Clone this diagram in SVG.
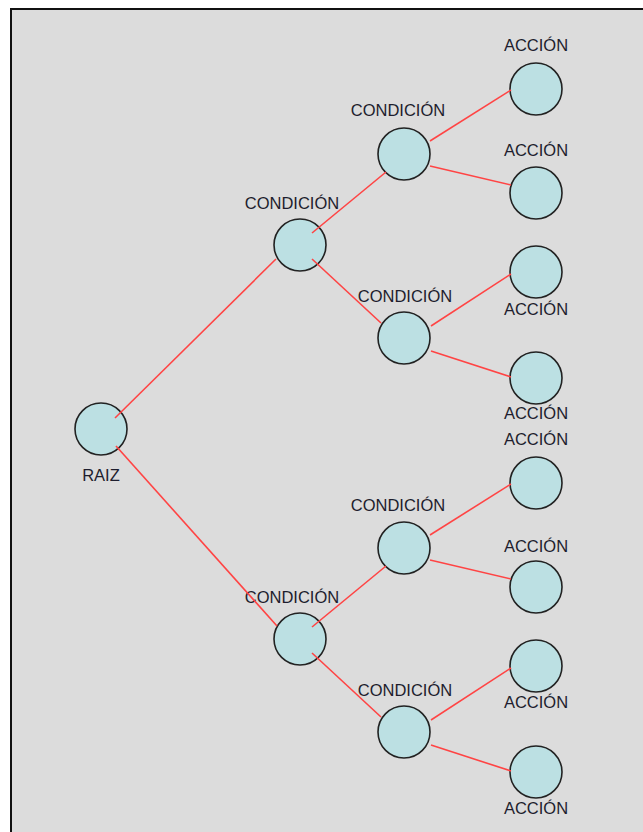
<svg xmlns="http://www.w3.org/2000/svg" width="643" height="832" viewBox="0 0 643 832">
<style>
.n{fill:#bce0e3;stroke:#222;stroke-width:1.6}
.t{font-family:"Liberation Sans",Arial,sans-serif;font-size:16.5px;fill:#1e1e2e;text-anchor:middle}
.c{stroke:#f44;stroke-width:1.6;fill:none}
</style>
<rect x="0" y="0" width="643" height="832" fill="#fff"/>
<rect x="11" y="9" width="632" height="823" fill="#dcdcdc"/>
<path d="M11,832 V9 H643" fill="none" stroke="#111" stroke-width="2"/>
<g id="raiz"><circle class="n" cx="101" cy="429" r="26"/><text class="t" x="101" y="481">RAIZ</text></g>
<g id="cond1a"><circle class="n" cx="300" cy="245" r="26"/><text class="t" x="292" y="209">CONDICIÓN</text></g>
<g id="cond1b"><circle class="n" cx="300" cy="639" r="26"/><text class="t" x="292" y="603">CONDICIÓN</text></g>
<g id="cond2a"><circle class="n" cx="404" cy="154" r="26"/><text class="t" x="398" y="116">CONDICIÓN</text></g>
<g id="cond2b"><circle class="n" cx="404" cy="338" r="26"/><text class="t" x="405" y="302">CONDICIÓN</text></g>
<g id="cond2c"><circle class="n" cx="404" cy="548" r="26"/><text class="t" x="398" y="511">CONDICIÓN</text></g>
<g id="cond2d"><circle class="n" cx="404" cy="732" r="26"/><text class="t" x="405" y="696">CONDICIÓN</text></g>
<g id="acc1"><circle class="n" cx="536" cy="89" r="26"/><text class="t" x="536" y="51">ACCIÓN</text></g>
<g id="acc2"><circle class="n" cx="536" cy="193" r="26"/><text class="t" x="536" y="156">ACCIÓN</text></g>
<g id="acc3"><circle class="n" cx="536" cy="272" r="26"/><text class="t" x="536" y="315">ACCIÓN</text></g>
<g id="acc4"><circle class="n" cx="536" cy="378" r="26"/><text class="t" x="536" y="419">ACCIÓN</text></g>
<g id="acc5"><circle class="n" cx="536" cy="483" r="26"/><text class="t" x="536" y="445">ACCIÓN</text></g>
<g id="acc6"><circle class="n" cx="536" cy="587" r="26"/><text class="t" x="536" y="552">ACCIÓN</text></g>
<g id="acc7"><circle class="n" cx="536" cy="666" r="26"/><text class="t" x="536" y="708">ACCIÓN</text></g>
<g id="acc8"><circle class="n" cx="536" cy="772" r="26"/><text class="t" x="536" y="814">ACCIÓN</text></g>
<g id="connectors">
<line class="c" x1="115" y1="418" x2="276" y2="259"/>
<line class="c" x1="116" y1="446" x2="277" y2="626"/>
<line class="c" x1="312" y1="233" x2="386" y2="172"/>
<line class="c" x1="312" y1="259" x2="381" y2="323"/>
<line class="c" x1="312" y1="627" x2="386" y2="566"/>
<line class="c" x1="312" y1="653" x2="381" y2="717"/>
<line class="c" x1="430" y1="141" x2="511" y2="90"/>
<line class="c" x1="430" y1="166" x2="511" y2="185"/>
<line class="c" x1="431" y1="326" x2="511" y2="274"/>
<line class="c" x1="431" y1="351" x2="511" y2="377"/>
<line class="c" x1="430" y1="535" x2="511" y2="484"/>
<line class="c" x1="430" y1="560" x2="511" y2="579"/>
<line class="c" x1="431" y1="720" x2="511" y2="668"/>
<line class="c" x1="431" y1="745" x2="511" y2="771"/>
</g>
</svg>
